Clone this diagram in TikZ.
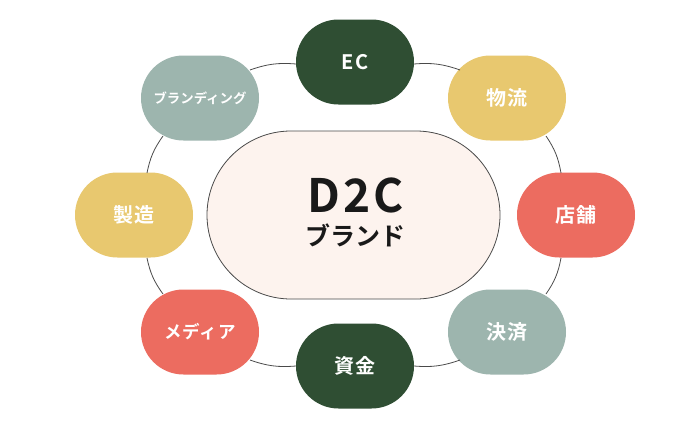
\documentclass[tikz,border=0pt]{standalone}
\usepackage{fontspec}
\setmainfont{Noto Sans CJK JP}[BoldFont={* Bold}]
\usetikzlibrary{shapes.misc}
\definecolor{darkgreen}{HTML}{2F4E33}
\definecolor{mustard}{HTML}{E8C86F}
\definecolor{coral}{HTML}{EC6C60}
\definecolor{sage}{HTML}{9DB5AE}
\definecolor{cream}{HTML}{FDF3EE}
\definecolor{ringline}{HTML}{4A4A4A}
\newfontfamily\spacedfont{Noto Sans CJK JP}[BoldFont={* Bold},LetterSpace=6]
\newfontfamily\widefont{Noto Sans CJK JP}[BoldFont={* Bold},LetterSpace=9]
\begin{document}
\begin{tikzpicture}[x=1pt, y=1pt,
    pill/.style ={rounded rectangle, minimum width=118pt, minimum height=85pt, inner sep=0pt, text=white, font=\widefont\bfseries\fontsize{20}{22}\selectfont},
    ring/.style ={draw=ringline, line width=0.8pt}]
   \useasboundingbox (0,0) rectangle (699,-434);
   \fill[white] (0,0) rectangle (699,-434);

   \node[pill, fill=darkgreen] (ec) at (355,-62)  {EC};
   \node[pill, fill=mustard] (logistics) at (507,-98)  {物流};
   \node[pill, fill=coral] (shop) at (576,-215)  {店舗};
   \node[pill, fill=sage] (payment) at (507,-332)  {決済};
   \node[pill, fill=darkgreen] (funds) at (355,-366)  {資金};
   \node[pill, fill=coral, font=\spacedfont\bfseries\fontsize{17.5}{20}\selectfont] (media) at (200,-332)  {メディア};
   \node[pill, fill=mustard] (making) at (134,-215)  {製造};
   \node[pill, fill=sage, font=\bfseries\fontsize{13.4}{16}\selectfont] (branding) at (200,-98)  {ブランディング};

   \node[rounded rectangle, draw=ringline, fill=cream, line width=0.8pt, minimum width=293pt, minimum height=168pt, inner sep=0pt] (brand) at (353.5,-215) {};
   \node[font=\spacedfont\bfseries\fontsize{46}{50}\selectfont, text=black!90] (title) at (355.5,-195) {D2C};
   \node[font=\bfseries\fontsize{25}{28}\selectfont, text=black!90] (subtitle) at (355,-235) {ブランド};

   \coordinate (ecW) at (296,-64);
   \coordinate (ecE) at (414,-64);
   \coordinate (fundsW) at (296,-366);
   \coordinate (fundsE) at (414,-366);
   \coordinate (brandingE) at (250,-70);
   \coordinate (brandingS) at (163,-136);
   \coordinate (makingN) at (147,-173);
   \coordinate (makingS) at (147,-258);
   \coordinate (mediaN) at (163,-294);
   \coordinate (mediaE) at (250,-360);
   \coordinate (logisticsW) at (460,-70);
   \coordinate (logisticsS) at (546,-136);
   \coordinate (shopN) at (561,-173);
   \coordinate (shopS) at (561,-258);
   \coordinate (paymentN) at (546,-294);
   \coordinate (paymentW) at (460,-360);

   \draw[ring] (ecW) to[bend right=12] (brandingE);
   \draw[ring] (brandingS) to[bend right=12] (makingN);
   \draw[ring] (makingS) to[bend right=12] (mediaN);
   \draw[ring] (mediaE) to[bend right=12] (fundsW);
   \draw[ring] (fundsE) to[bend right=12] (paymentW);
   \draw[ring] (paymentN) to[bend right=12] (shopS);
   \draw[ring] (shopN) to[bend right=12] (logisticsS);
   \draw[ring] (logisticsW) to[bend right=12] (ecE);
 \end{tikzpicture}
\end{document}
